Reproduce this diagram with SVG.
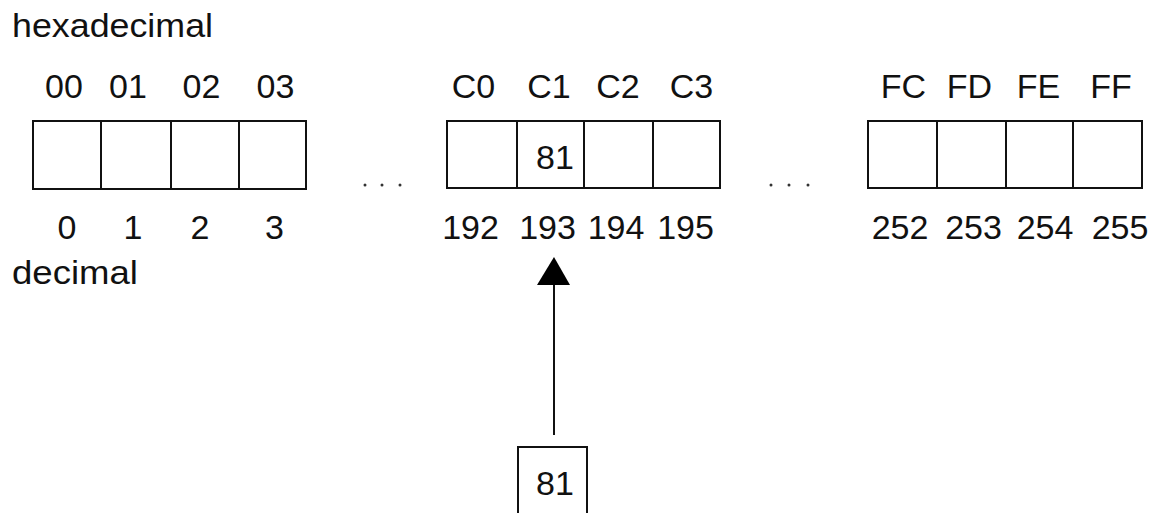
<svg xmlns="http://www.w3.org/2000/svg" width="1153" height="513" viewBox="0 0 1153 513">
<style>
text{font-family:"Liberation Sans",Arial,sans-serif;font-size:34px;fill:#111}
.m{text-anchor:middle}
.box{fill:#fff;stroke:#111;stroke-width:2}
.div{stroke:#111;stroke-width:2}
.dot{fill:#333}
</style>
<rect width="1153" height="513" fill="#fff"/>
<g id="titles">
<text x="12" y="37" textLength="201" lengthAdjust="spacingAndGlyphs">hexadecimal</text>
<text x="12" y="284" textLength="126" lengthAdjust="spacingAndGlyphs">decimal</text>
</g>
<g id="block-low">
<rect class="box" x="33" y="121" width="273" height="68"/>
<line class="div" x1="101" y1="121" x2="101" y2="189"/>
<line class="div" x1="171" y1="121" x2="171" y2="189"/>
<line class="div" x1="239" y1="121" x2="239" y2="189"/>
<text class="m" x="64" y="98">00</text>
<text class="m" x="128" y="98">01</text>
<text class="m" x="201.5" y="98">02</text>
<text class="m" x="275.5" y="98">03</text>
<text class="m" x="67" y="239">0</text>
<text class="m" x="133" y="239">1</text>
<text class="m" x="200" y="239">2</text>
<text class="m" x="274.5" y="239">3</text>
</g>
<g id="ellipsis-1">
<circle class="dot" cx="365" cy="185" r="1.5"/>
<circle class="dot" cx="382" cy="185" r="1.5"/>
<circle class="dot" cx="400" cy="185" r="1.5"/>
</g>
<g id="block-mid">
<rect class="box" x="447" y="121" width="273" height="67"/>
<line class="div" x1="517" y1="121" x2="517" y2="188"/>
<line class="div" x1="584" y1="121" x2="584" y2="188"/>
<line class="div" x1="653" y1="121" x2="653" y2="188"/>
<text class="m" x="473.5" y="98">C0</text>
<text class="m" x="549" y="98">C1</text>
<text class="m" x="618" y="98">C2</text>
<text class="m" x="691.5" y="98">C3</text>
<text class="m" x="555" y="169">81</text>
<text class="m" x="470.5" y="239">192</text>
<text class="m" x="547.5" y="239">193</text>
<text class="m" x="616" y="239">194</text>
<text class="m" x="685.5" y="239">195</text>
</g>
<g id="ellipsis-2">
<circle class="dot" cx="771" cy="185" r="1.5"/>
<circle class="dot" cx="789" cy="185" r="1.5"/>
<circle class="dot" cx="808" cy="185" r="1.5"/>
</g>
<g id="block-high">
<rect class="box" x="868" y="121" width="274" height="67"/>
<line class="div" x1="937" y1="121" x2="937" y2="188"/>
<line class="div" x1="1006" y1="121" x2="1006" y2="188"/>
<line class="div" x1="1073" y1="121" x2="1073" y2="188"/>
<text class="m" x="903.5" y="98">FC</text>
<text class="m" x="969.5" y="98">FD</text>
<text class="m" x="1038.5" y="98">FE</text>
<text class="m" x="1111" y="98">FF</text>
<text class="m" x="900" y="239">252</text>
<text class="m" x="973.5" y="239">253</text>
<text class="m" x="1045" y="239">254</text>
<text class="m" x="1120" y="239">255</text>
</g>
<g id="value-box">
<rect class="box" x="518" y="447" width="69" height="80"/>
<text class="m" x="555" y="495">81</text>
</g>
<g id="connectors">
<line x1="554" y1="284" x2="554" y2="435" stroke="#111" stroke-width="2"/>
<polygon points="554,257 537,285 570,285" fill="#000"/>
</g>
</svg>
